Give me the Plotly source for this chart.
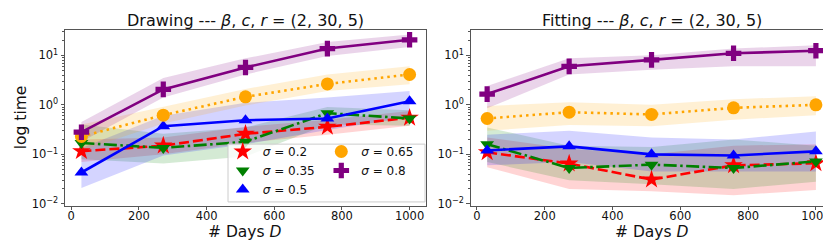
import plotly.graph_objects as go

days = [30, 272, 515, 757, 1000]
sigma_labels = ["0.2", "0.35", "0.5", "0.65", "0.8"]

# Drawing panel: mean, upper, lower
draw_mean = {
    "0.2":  [0.116, 0.15, 0.26, 0.36, 0.55],
    "0.35": [0.17, 0.135, 0.18, 0.68, 0.53],
    "0.5":  [0.043, 0.37, 0.49, 0.53, 1.18],
    "0.65": [0.23, 0.62, 1.45, 2.65, 4.1],
    "0.8":  [0.28, 2.05, 5.7, 13.7, 20.6],
}
draw_up = {
    "0.2":  [0.2, 0.22, 0.36, 0.5, 0.75],
    "0.35": [0.4, 0.26, 0.35, 0.9, 0.78],
    "0.5":  [0.135, 0.6, 1.1, 1.4, 1.9],
    "0.65": [0.4, 0.9, 2.1, 4.1, 6.0],
    "0.8":  [0.45, 3.5, 8.7, 18.6, 26.4],
}
draw_lo = {
    "0.2":  [0.07, 0.1, 0.17, 0.25, 0.38],
    "0.35": [0.08, 0.065, 0.09, 0.4, 0.38],
    "0.5":  [0.021, 0.095, 0.16, 0.31, 0.57],
    "0.65": [0.12, 0.42, 0.97, 1.9, 2.6],
    "0.8":  [0.18, 1.41, 4.1, 9.7, 14.8],
}

# Fitting panel
fit_mean = {
    "0.2":  [0.11, 0.065, 0.031, 0.06, 0.066],
    "0.35": [0.16, 0.053, 0.062, 0.053, 0.072],
    "0.5":  [0.12, 0.145, 0.1, 0.095, 0.115],
    "0.65": [0.53, 0.71, 0.64, 0.87, 1.0],
    "0.8":  [1.65, 6.0, 8.1, 11.0, 12.4],
}
fit_up = {
    "0.2":  [0.22, 0.13, 0.1, 0.15, 0.16],
    "0.35": [0.35, 0.15, 0.14, 0.2, 0.15],
    "0.5":  [0.25, 0.3, 0.22, 0.2, 0.29],
    "0.65": [0.95, 1.13, 1.0, 1.3, 1.5],
    "0.8":  [2.4, 8.7, 10.0, 13.7, 16.0],
}
fit_lo = {
    "0.2":  [0.055, 0.02, 0.018, 0.015, 0.019],
    "0.35": [0.07, 0.03, 0.025, 0.02, 0.028],
    "0.5":  [0.06, 0.07, 0.045, 0.045, 0.045],
    "0.65": [0.3, 0.39, 0.37, 0.5, 0.62],
    "0.8":  [0.85, 4.1, 5.1, 6.0, 6.0],
}

titles = ["Drawing --- <i>β</i>, <i>c</i>, <i>r</i> = (2, 30, 5)",
          "Fitting --- <i>β</i>, <i>c</i>, <i>r</i> = (2, 30, 5)"]
xlabel = "# Days <i>D</i>"
ylabel = "log time"
xticks = [0, 200, 400, 600, 800, 1000]

colors = {"0.2": "255,0,0", "0.35": "0,128,0", "0.5": "0,0,255",
          "0.65": "255,165,0", "0.8": "128,0,128"}
symbols = {"0.2": "star", "0.35": "triangle-down", "0.5": "triangle-up",
           "0.65": "circle", "0.8": "cross"}
msize = {"0.2": 14, "0.35": 12, "0.5": 12, "0.65": 13, "0.8": 13}
dashes = {"0.2": "10px,4px", "0.35": "13px,3.5px,2.5px,3.5px", "0.5": "solid",
          "0.65": "2.5px,4px", "0.8": "solid"}

FONT = "DejaVu Sans"
fig = go.Figure()

panels = [(draw_mean, draw_up, draw_lo, "x", "y"),
          (fit_mean, fit_up, fit_lo, "x2", "y2")]

for mean, up, lo, xa, ya in panels:
    for s in sigma_labels:
        c = colors[s]
        fig.add_trace(go.Scatter(
            x=days + days[::-1], y=up[s] + lo[s][::-1],
            fill="toself", fillcolor=f"rgba({c},0.17)",
            line=dict(width=0), mode="lines", hoverinfo="skip",
            showlegend=False, xaxis=xa, yaxis=ya))
    for s in sigma_labels:
        c = colors[s]
        fig.add_trace(go.Scatter(
            x=days, y=mean[s], mode="lines+markers",
            line=dict(color=f"rgb({c})", width=2.6, dash=dashes[s]),
            marker=dict(symbol=symbols[s], size=msize[s], color=f"rgb({c})",
                        line=dict(width=0)),
            showlegend=False, xaxis=xa, yaxis=ya))

# legend-only entries (markers only, as in the reference)
for i, s in enumerate(sigma_labels):
    c = colors[s]
    fig.add_trace(go.Scatter(
        x=[None], y=[None], mode="markers", name=f"<i>σ</i> = {s}",
        marker=dict(symbol=symbols[s], size=msize[s], color=f"rgb({c})", line=dict(width=0)),
        legend="legend" if i < 3 else "legend2", xaxis="x", yaxis="y"))

yr = [-2.034, 1.514]
xr = [-18.5, 1048.5]
ytv = [0.01, 0.1, 1, 10]
ytt = ["10<sup>−2</sup>", "10<sup>−1</sup>", "10<sup>0</sup>", "10<sup>1</sup>"]
spine = "#555555"

common_x = dict(range=xr, tickvals=xticks, ticks="",
                showgrid=False, zeroline=False,
                showline=True, linecolor=spine, linewidth=1, mirror=True,
                ticklabeloverflow="allow",
                tickfont=dict(family=FONT, size=11.5, color="#111"),
                minor=dict(ticks="outside", ticklen=3.5, tickcolor=spine,
                           tickvals=xticks, showgrid=False))
common_y = dict(type="log", range=yr, tickvals=ytv, ticktext=ytt, ticks="outside",
                ticklen=3.5, tickcolor=spine, showgrid=False, zeroline=False,
                showline=True, linecolor=spine, linewidth=1, mirror=True,
                tickfont=dict(family=FONT, size=11.5, color="#111"),
                minor=dict(ticks="outside", ticklen=2, tickcolor=spine,
                           tickvals=[k * 10 ** e for e in (-2, -1, 0, 1) for k in range(2, 10)],
                           showgrid=False))

leg_common = dict(xanchor="left", yanchor="top", bgcolor="rgba(0,0,0,0)", borderwidth=0,
                  font=dict(family=FONT, size=12, color="#111"),
                  tracegroupgap=0, itemwidth=30)

def ann(text, x, y, size, angle=0):
    return dict(text=text, x=x, y=y, xref="paper", yref="paper", showarrow=False,
                xanchor="center", yanchor="middle", textangle=angle,
                font=dict(family=FONT, size=size, color="#111"))

fig.update_layout(
    width=831, height=243,
    margin=dict(l=0, r=0, t=0, b=0),
    paper_bgcolor="white", plot_bgcolor="white",
    font=dict(family=FONT, color="#111"),
    xaxis=dict(domain=[0.0686, 0.503], anchor="y", **common_x),
    yaxis=dict(domain=[0.170, 0.908], anchor="x", **common_y),
    xaxis2=dict(domain=[0.5568, 0.992], anchor="y2", **common_x),
    yaxis2=dict(domain=[0.170, 0.908], anchor="x2", **common_y),
    legend=dict(x=0.2584, y=0.458, **leg_common),
    legend2=dict(x=0.377, y=0.458, **leg_common),
    shapes=[dict(type="rect", xref="paper", yref="paper",
                 x0=220 / 831, x1=417 / 831, y0=1 - 198 / 243, y1=1 - 139 / 243,
                 fillcolor="rgba(255,255,255,0.8)", line=dict(color="#cccccc", width=1),
                 layer="above")],
    annotations=[
        ann(titles[0], (0.0686 + 0.503) / 2, 1 - 12.5 / 243, 16),
        ann(titles[1], (0.5568 + 0.992) / 2, 1 - 12.5 / 243, 16),
        ann(xlabel, (0.0686 + 0.503) / 2, 1 - 228.5 / 243, 15.5),
        ann(xlabel, (0.5568 + 0.992) / 2, 1 - 228.5 / 243, 15.5),
        ann(ylabel, 12.5 / 831, 1 - 112 / 243, 15.5, angle=-90),
    ],
)

fig.write_html("out.html")
